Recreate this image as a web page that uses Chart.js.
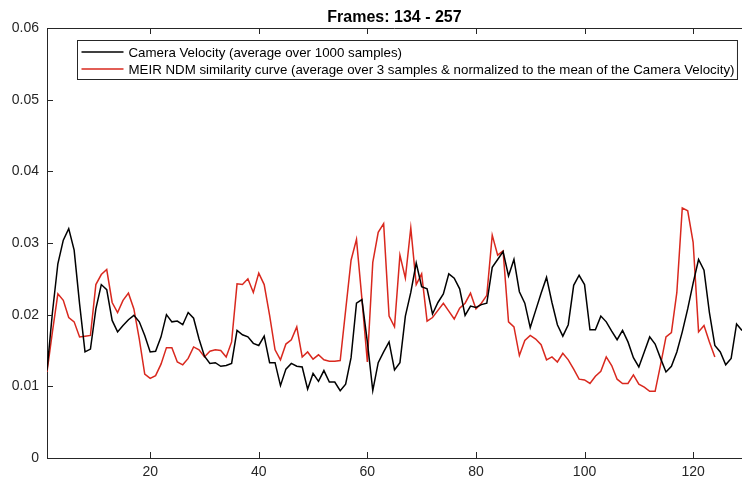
<!DOCTYPE html>
<html>
<head>
<meta charset="utf-8">
<script src="https://cdn.jsdelivr.net/npm/chart.js@4.4.1/dist/chart.umd.min.js"></script>
<style>
  html, body { margin: 0; padding: 0; background: #fff; }
</style>
</head>
<body>
<canvas id="chart" width="742" height="482"></canvas>
<script>
const TITLE = 'Frames: 134 - 257';
const CAMERA_LABEL = 'Camera Velocity (average over 1000 samples)';
const NDM_LABEL = 'MEIR NDM similarity curve (average over 3 samples & normalized to the mean of the Camera Velocity)';

const CAMERA_VELOCITY = [
  0.0122, 0.0203, 0.0271, 0.0304, 0.0320, 0.0290, 0.0215, 0.0148, 0.0152, 0.0208,
  0.0242, 0.0235, 0.0192, 0.0176, 0.0185, 0.0193, 0.0199, 0.0190, 0.0171, 0.0148,
  0.0149, 0.0169, 0.0200, 0.0190, 0.0191, 0.0186, 0.0203, 0.0195, 0.0166, 0.0142,
  0.0132, 0.0133, 0.0128, 0.0129, 0.0132, 0.0178, 0.0172, 0.0169, 0.0160, 0.0157,
  0.0170, 0.0133, 0.0133, 0.0101, 0.0124, 0.0132, 0.0128, 0.0127, 0.0096, 0.0118,
  0.0107, 0.0122, 0.0106, 0.0106, 0.0094, 0.0103, 0.0140, 0.0216, 0.0221, 0.0162,
  0.0094, 0.0133, 0.0148, 0.0162, 0.0123, 0.0133, 0.0198, 0.0231, 0.0272, 0.0239,
  0.0236, 0.0201, 0.0217, 0.0229, 0.0257, 0.0251, 0.0236, 0.0199, 0.0212, 0.0210,
  0.0214, 0.0216, 0.0266, 0.0277, 0.0288, 0.0254, 0.0277, 0.0232, 0.0216, 0.0182,
  0.0206, 0.0230, 0.0252, 0.0217, 0.0186, 0.0170, 0.0186, 0.0241, 0.0255, 0.0242,
  0.0179, 0.0179, 0.0198, 0.0190, 0.0177, 0.0165, 0.0178, 0.0162, 0.0140, 0.0127,
  0.0148, 0.0169, 0.0159, 0.0139, 0.0120, 0.0128, 0.0148, 0.0176, 0.0208, 0.0244,
  0.0277, 0.0262, 0.0203, 0.0157, 0.0148, 0.0130, 0.0139, 0.0187, 0.0178
];

const NDM_SIMILARITY = [
  0.0120, 0.0176, 0.0229, 0.0220, 0.0196, 0.0190, 0.0169, 0.0170, 0.0171, 0.0242,
  0.0256, 0.0263, 0.0217, 0.0203, 0.0220, 0.0230, 0.0208, 0.0166, 0.0117, 0.0111,
  0.0115, 0.0131, 0.0154, 0.0154, 0.0134, 0.0130, 0.0139, 0.0155, 0.0151, 0.0141,
  0.0149, 0.0151, 0.0150, 0.0141, 0.0162, 0.0243, 0.0242, 0.0250, 0.0231, 0.0258,
  0.0242, 0.0199, 0.0151, 0.0137, 0.0159, 0.0165, 0.0183, 0.0141, 0.0148, 0.0138,
  0.0144, 0.0137, 0.0135, 0.0135, 0.0136, 0.0206, 0.0276, 0.0305, 0.0222, 0.0134,
  0.0273, 0.0315, 0.0327, 0.0198, 0.0183, 0.0283, 0.0251, 0.0321, 0.0242, 0.0257,
  0.0191, 0.0196, 0.0206, 0.0216, 0.0205, 0.0194, 0.0209, 0.0216, 0.0230, 0.0208,
  0.0216, 0.0227, 0.0311, 0.0283, 0.0289, 0.0190, 0.0183, 0.0143, 0.0164, 0.0171,
  0.0166, 0.0158, 0.0137, 0.0141, 0.0134, 0.0146, 0.0137, 0.0124, 0.0110, 0.0109,
  0.0104, 0.0114, 0.0121, 0.0141, 0.0129, 0.0110, 0.0104, 0.0104, 0.0116, 0.0103,
  0.0099, 0.0093, 0.0093, 0.0130, 0.0169, 0.0175, 0.0231, 0.0349, 0.0345, 0.0301,
  0.0176, 0.0185, 0.0162, 0.0141
];

const X_TICKS = [20, 40, 60, 80, 100, 120];
const Y_TICKS = [0, 0.01, 0.02, 0.03, 0.04, 0.05, 0.06];

// sample index along the x axis (1-based)
const SAMPLES = CAMERA_VELOCITY.map((v, i) => i + 1);

const AXIS_COLOR = '#262626';
const FONT = 'Liberation Sans, Arial, Helvetica, sans-serif';

// MATLAB look: box with inward ticks, title over the axes, legend inside
const matlabBox = {
  id: 'matlabBox',
  afterDraw(chart) {
    const ctx = chart.ctx;
    const area = chart.chartArea;
    const xs = chart.scales.x;
    const ys = chart.scales.y;
    const tl = 6;

    ctx.save();
    ctx.strokeStyle = AXIS_COLOR;
    ctx.lineWidth = 1;
    ctx.beginPath();
    ctx.moveTo(area.left, area.top + 0.5);
    ctx.lineTo(area.right, area.top + 0.5);
    X_TICKS.forEach(v => {
      const px = Math.round(xs.getPixelForValue(v)) + 0.5;
      ctx.moveTo(px, area.bottom);
      ctx.lineTo(px, area.bottom - tl);
      ctx.moveTo(px, area.top);
      ctx.lineTo(px, area.top + tl);
    });
    Y_TICKS.forEach(v => {
      const py = Math.round(ys.getPixelForValue(v)) + 0.5;
      ctx.moveTo(area.left, py);
      ctx.lineTo(area.left + tl, py);
    });
    ctx.stroke();

    // title
    ctx.fillStyle = '#000';
    ctx.font = 'bold 16px ' + FONT;
    ctx.textAlign = 'center';
    ctx.textBaseline = 'alphabetic';
    ctx.fillText(TITLE, (area.left + area.right) / 2, area.top - 6);

    // legend
    ctx.font = '13.3px ' + FONT;
    const items = chart.data.datasets;
    const bx = area.left + 30.5;
    const by = area.top + 12.5;
    const textX = bx + 51;
    let maxW = 0;
    items.forEach(d => { maxW = Math.max(maxW, ctx.measureText(d.label).width); });
    const bw = textX + maxW + 3 - bx;
    const bh = 39;
    ctx.fillStyle = '#fff';
    ctx.fillRect(bx, by, bw, bh);
    ctx.strokeStyle = AXIS_COLOR;
    ctx.strokeRect(bx, by, bw, bh);
    ctx.textAlign = 'left';
    ctx.textBaseline = 'middle';
    items.forEach((d, i) => {
      const y = by + 11.5 + i * 17;
      ctx.strokeStyle = d.borderColor;
      ctx.lineWidth = d.borderWidth;
      ctx.beginPath();
      ctx.moveTo(bx + 4, y);
      ctx.lineTo(bx + 46, y);
      ctx.stroke();
      ctx.fillStyle = '#000';
      ctx.fillText(d.label, textX, y + 1);
    });
    ctx.restore();
  }
};

new Chart(document.getElementById('chart'), {
  type: 'line',
  data: {
    labels: SAMPLES,
    datasets: [
      {
        label: CAMERA_LABEL,
        data: CAMERA_VELOCITY,
        borderColor: '#000000',
        borderWidth: 1.5,
        pointRadius: 0,
        tension: 0,
        fill: false
      },
      {
        label: NDM_LABEL,
        data: NDM_SIMILARITY,
        borderColor: '#d9281e',
        borderWidth: 1.5,
        pointRadius: 0,
        tension: 0,
        fill: false
      }
    ]
  },
  options: {
    responsive: false,
    devicePixelRatio: 1,
    animation: false,
    layout: { padding: { top: 28, right: 0, left: 0, bottom: 0 } },
    plugins: {
      legend: { display: false },
      title: { display: false },
      tooltip: { enabled: false }
    },
    scales: {
      x: {
        type: 'linear',
        min: 1,
        max: 129,
        afterBuildTicks: s => { s.ticks = X_TICKS.map(v => ({ value: v })); },
        afterFit: s => { s.height = 24; },
        grid: { display: false, drawTicks: false },
        border: { color: AXIS_COLOR, width: 1 },
        ticks: {
          color: AXIS_COLOR,
          font: { family: FONT, size: 14 },
          padding: 6,
          maxRotation: 0,
          autoSkip: false
        }
      },
      y: {
        min: 0,
        max: 0.06,
        afterBuildTicks: s => { s.ticks = Y_TICKS.map(v => ({ value: v })); },
        afterFit: s => { s.width = 47; },
        grid: { display: false, drawTicks: false },
        border: { color: AXIS_COLOR, width: 1 },
        ticks: {
          color: AXIS_COLOR,
          font: { family: FONT, size: 14 },
          padding: 8,
          callback: v => (v === 0 ? '0' : v.toFixed(2))
        }
      }
    }
  },
  plugins: [matlabBox]
});
</script>
</body>
</html>
